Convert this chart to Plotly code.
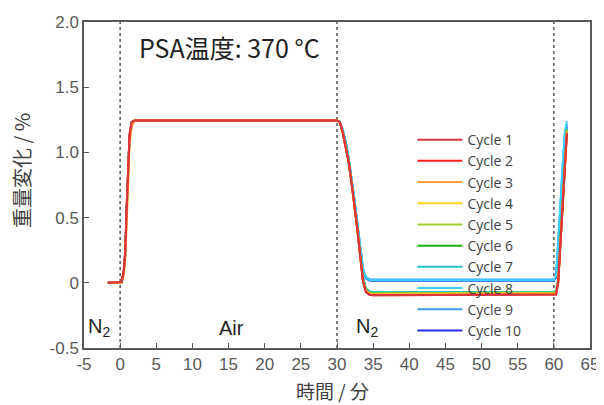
import plotly.graph_objects as go

time = [-1.7, 0.0, 0.2, 0.5, 0.7, 0.9, 1.1, 1.3, 1.6, 2.0,
        30.0, 30.4, 30.8, 31.2, 31.6, 32.0, 32.4, 32.8, 33.2, 33.6, 34.0, 34.5, 35.0,
        60.0, 60.3, 60.6, 60.9, 61.2, 61.5, 61.8]

cycle_names = ["Cycle 1", "Cycle 2", "Cycle 3", "Cycle 4", "Cycle 5",
               "Cycle 6", "Cycle 7", "Cycle 8", "Cycle 9", "Cycle 10"]
colors = ["#d9363e", "#ff1f1f", "#ffa033", "#ffd21f", "#9bcf2e",
          "#14b414", "#26c2c2", "#38d0ff", "#3a9cff", "#2a2ae6"]

c1 = [0, 0, 0.005, 0.10, 0.25, 0.60, 0.95, 1.15, 1.235, 1.245,
      1.245, 1.23, 1.15, 1.05, 0.93, 0.77, 0.60, 0.42, 0.21, 0.01, -0.07, -0.092, -0.095,
      -0.095, -0.09, 0.0, 0.30, 0.60, 0.90, 1.15]
c2 = [0, 0, 0.005, 0.09, 0.23, 0.57, 0.92, 1.13, 1.23, 1.245,
      1.245, 1.23, 1.15, 1.05, 0.93, 0.77, 0.60, 0.42, 0.21, 0.01, -0.07, -0.092, -0.095,
      -0.095, -0.09, 0.0, 0.30, 0.60, 0.90, 1.14]
c3 = [0, 0, 0.0, 0.06, 0.18, 0.45, 0.80, 1.05, 1.20, 1.245,
      1.245, 1.23, 1.15, 1.05, 0.93, 0.77, 0.60, 0.42, 0.21, 0.02, -0.06, -0.088, -0.09,
      -0.09, -0.085, 0.0, 0.30, 0.60, 0.90, 1.16]
c4 = [0, 0, 0.0, 0.07, 0.20, 0.50, 0.85, 1.10, 1.22, 1.245,
      1.245, 1.23, 1.15, 1.05, 0.93, 0.77, 0.60, 0.42, 0.21, 0.02, -0.06, -0.083, -0.085,
      -0.085, -0.08, 0.0, 0.30, 0.60, 0.90, 1.16]
c5 = [0, 0, 0.0, 0.08, 0.22, 0.55, 0.90, 1.12, 1.23, 1.245,
      1.245, 1.23, 1.15, 1.05, 0.93, 0.77, 0.60, 0.42, 0.21, 0.02, -0.055, -0.078, -0.08,
      -0.08, -0.075, 0.01, 0.31, 0.61, 0.91, 1.17]
c6 = [0, 0, 0.0, 0.08, 0.22, 0.55, 0.90, 1.12, 1.23, 1.245,
      1.245, 1.23, 1.15, 1.05, 0.93, 0.77, 0.60, 0.42, 0.21, 0.02, -0.055, -0.078, -0.08,
      -0.08, -0.075, 0.01, 0.31, 0.61, 0.91, 1.17]
c7 = [0, 0, 0.0, 0.08, 0.22, 0.55, 0.90, 1.12, 1.23, 1.245,
      1.245, 1.235, 1.16, 1.07, 0.95, 0.79, 0.62, 0.44, 0.24, 0.05, -0.04, -0.065, -0.07,
      -0.07, -0.06, 0.03, 0.33, 0.63, 0.93, 1.18]
c8 = [0, 0, 0.0, 0.08, 0.22, 0.55, 0.90, 1.12, 1.23, 1.245,
      1.245, 1.235, 1.17, 1.08, 0.96, 0.81, 0.64, 0.46, 0.28, 0.11, 0.04, 0.022, 0.02,
      0.02, 0.05, 0.30, 0.60, 0.90, 1.15, 1.24]
c9 = [0, 0, 0.0, 0.08, 0.22, 0.55, 0.90, 1.12, 1.23, 1.245,
      1.245, 1.235, 1.17, 1.08, 0.96, 0.81, 0.64, 0.46, 0.28, 0.11, 0.045, 0.027, 0.025,
      0.025, 0.05, 0.28, 0.58, 0.88, 1.12, 1.22]
c10 = [0, 0, 0.0, 0.08, 0.22, 0.55, 0.90, 1.12, 1.23, 1.245,
       1.245, 1.235, 1.17, 1.08, 0.96, 0.81, 0.64, 0.46, 0.28, 0.10, 0.035, 0.017, 0.015,
       0.015, 0.04, 0.26, 0.56, 0.86, 1.10, 1.20]
series = [c1, c2, c3, c4, c5, c6, c7, c8, c9, c10]

x_ticks = list(range(-5, 66, 5))
x_tick_text = [str(v) for v in x_ticks]
y_ticks = [-0.5, 0, 0.5, 1.0, 1.5, 2.0]
y_tick_text = ["-0.5", "0", "0.5", "1.0", "1.5", "2.0"]
phase_bounds = [0, 30, 60]

fig = go.Figure()
for name, col, vals in reversed(list(zip(cycle_names, colors, series))):
    fig.add_trace(go.Scatter(x=time, y=vals, mode="lines", name=name,
                             line=dict(color=col, width=2)))

for xb in phase_bounds:
    fig.add_shape(type="line", xref="x", yref="paper", x0=xb, x1=xb, y0=0, y1=1,
                  line=dict(color="#555555", width=1.5, dash="dot"), layer="below")

axis_common = dict(showline=True, linecolor="#595959", linewidth=1.5, mirror=True,
                   ticks="inside", ticklen=5, tickcolor="#595959", tickwidth=1.3,
                   showgrid=False, zeroline=False, automargin=False,
                   tickfont=dict(family="Liberation Sans, Arial", size=17, color="#595959"))

fig.update_xaxes(range=[-5, 65], tickvals=x_ticks, ticktext=x_tick_text, **axis_common)
fig.update_yaxes(range=[-0.5, 2.0], tickvals=y_ticks, ticktext=y_tick_text, **axis_common)

title_font = dict(family="Noto Sans CJK JP", size=19, color="#404040")
fig.add_annotation(x=0.492, y=-0.131, xref="paper", yref="paper", text="時間 / 分",
                   showarrow=False, xanchor="center", yanchor="middle", font=title_font)
fig.add_annotation(x=-0.1225, y=0.543, xref="paper", yref="paper", text="重量変化 / %",
                   showarrow=False, textangle=-90, xanchor="center", yanchor="middle",
                   font=dict(family="Noto Sans CJK JP", size=20, color="#404040"))

ann_font = dict(family="Liberation Sans, Arial", size=20, color="#222222")
fig.add_annotation(x=2.4, y=1.81, xref="x", yref="y", text="PSA温度: 370 °C",
                   showarrow=False, xanchor="left",
                   font=dict(family="Noto Sans CJK JP", size=25, color="#222222"))
fig.add_annotation(x=-2.9, y=-0.345, xref="x", yref="y", text="N<sub>2</sub>",
                   showarrow=False, font=ann_font)
fig.add_annotation(x=15.4, y=-0.345, xref="x", yref="y", text="Air",
                   showarrow=False, font=ann_font)
fig.add_annotation(x=34.2, y=-0.345, xref="x", yref="y", text="N<sub>2</sub>",
                   showarrow=False, font=ann_font)

fig.update_layout(
    width=596, height=397,
    margin=dict(l=76, r=14, t=14, b=57),
    plot_bgcolor="white", paper_bgcolor="white",
    legend=dict(x=0.649, y=0.687, xanchor="left", yanchor="top",
                traceorder="reversed", bgcolor="rgba(0,0,0,0)",
                font=dict(family="Open Sans", size=14, color="#404040"),
                itemwidth=45, tracegroupgap=0),
)

fig.write_html("out.html")
